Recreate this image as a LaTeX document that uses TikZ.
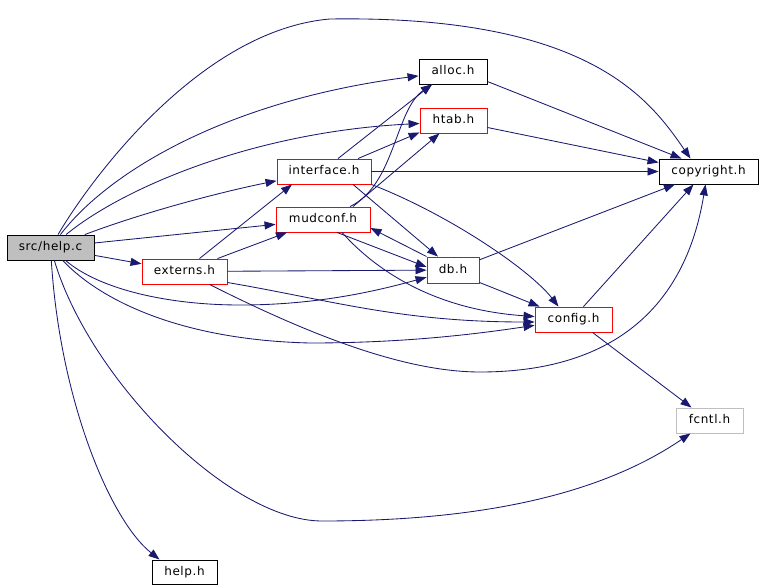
\documentclass[tikz,border=0pt]{standalone}
\usepackage{fontspec}
\setmainfont{DejaVu Sans}[LetterSpace=5]
\usetikzlibrary{arrows.meta,calc}
\definecolor{edgeblue}{HTML}{191970}
\definecolor{boxgray}{HTML}{BFBFBF}
\begin{document}
\begin{tikzpicture}[x=1pt,y=-1pt,
  file/.style={draw, line width=0.9pt, minimum height=25pt, inner sep=0pt,
    text height=9pt, text depth=3pt, font=\fontsize{12}{14}\selectfont},
  redfile/.style={file, draw=red},
  blackfile/.style={file, draw=black},
  grayfile/.style={file, draw=boxgray},
  dep/.style={draw=edgeblue, line width=0.85pt, -{Triangle[length=11pt,width=8pt]}}
]
\useasboundingbox (0,0) rectangle (763,588);

% nodes
\node[blackfile, fill=boxgray, minimum width=87pt] (helpc) at (50.5,247.5) {src/help.c};
\node[redfile, minimum width=85pt] (externs) at (184.5,271.5) {externs.h};
\node[redfile, minimum width=94pt] (interface) at (324,171.5) {interface.h};
\node[blackfile, minimum width=68pt] (alloc) at (453,71.5) {alloc.h};
\node[redfile, minimum width=67pt] (htab) at (453.5,120.5) {htab.h};
\node[redfile, minimum width=94pt] (mudconf) at (323,219.5) {mudconf.h};
\node[redfile, minimum width=52pt, minimum height=26pt] (db) at (453,270) {db.h};
\node[redfile, minimum width=77pt] (config) at (573.5,319.5) {config.h};
\node[blackfile, minimum width=99pt] (copyright) at (708.5,171.5) {copyright.h};
\node[grayfile, minimum width=67pt] (fcntl) at (709.5,420.5) {fcntl.h};
\node[blackfile, minimum width=65pt, minimum height=24pt] (helph) at (184.5,572) {help.h};

% src/help.c
\draw[dep] (helpc) .. controls (90,180) and (200,30) .. (330,19) .. controls (590,15) and (650,100) .. ($(copyright.north)+(-18,0)$);
\draw[dep] (helpc) .. controls (110,170) and (230,100) .. (alloc);
\draw[dep] (helpc) .. controls (120,190) and (250,132) .. ($(htab.west)+(0,3)$);
\draw[dep] (helpc) .. controls (150,210) and (230,190) .. (interface);
\draw[dep] (helpc) -- (mudconf);
\draw[dep] (helpc) -- (externs);
\draw[dep] (helpc) .. controls (100,290) and (170,305) .. (240,305) .. controls (320,305) and (380,290) .. (db);
\draw[dep] (helpc) .. controls (100,300) and (180,340) .. (310,343) .. controls (400,343) and (470,335) .. (config);
\draw[dep] (helpc) .. controls (90,380) and (230,521) .. (322,521) .. controls (480,521) and (600,495) .. (fcntl);
\draw[dep] (helpc) .. controls (60,400) and (110,520) .. ($(helph.north)+(-25,0)$);

% interface.h
\draw[dep] ($(interface.north)+(14,0)$) -- ($(alloc.south)+(-21,0)$);
\draw[dep] ($(interface.north)+(34,0)$) -- ($(htab.south west)+(0,-1)$);
\draw[dep] (interface) -- (copyright);
\draw[dep] ($(interface.south)+(29,0)$) -- ($(db.north)+(-15,0)$);
\draw[dep] (interface.south east) .. controls (450,215) and (530,270) .. ($(config.north)+(-15,0)$);

% mudconf.h
\draw[dep] ($(mudconf.north)+(27,0)$) .. controls (395,185) and (395,110) .. ($(alloc.south)+(-21,0)$);
\draw[dep] ($(mudconf.north)+(30,0)$) -- ($(htab.south)+(-14,0)$);
\draw[dep] ($(mudconf.south)+(14,0)$) -- ($(db.west)+(0,-3)$);
\draw[dep] ($(mudconf.south)+(19,0)$) .. controls (380,275) and (440,310) .. ($(config.west)+(0,-3)$);

% db.h
\draw[dep] (db.north west) -- ($(mudconf.east)+(0,8.5)$);
\draw[dep] (db) -- (copyright);
\draw[dep] ($(db.south east)+(0,-1)$) -- ($(config.north west)+(5,0)$);

% externs.h
\draw[dep] ($(externs.north)+(15,0)$) -- ($(interface.south)+(-32,0)$);
\draw[dep] ($(externs.north)+(33,0)$) -- ($(mudconf.south)+(-36,0)$);
\draw[dep] (externs) -- (db);
\draw[dep] ($(externs.east)+(0,11)$) .. controls (330,300) and (400,322) .. ($(config.west)+(0,2.5)$);
\draw[dep] ($(externs.south)+(25,0)$) .. controls (300,330) and (400,372) .. (480,372) .. controls (610,372) and (685,310) .. ($(copyright.south)+(-3,0)$);

% config.h
\draw[dep] ($(config.north)+(10,0)$) -- ($(copyright.south)+(-15,0)$);
\draw[dep] ($(config.south)+(19,0)$) -- ($(fcntl.north)+(-18,0)$);

% alloc.h, htab.h
\draw[dep] ($(alloc.east)+(0,10)$) -- ($(copyright.north)+(-27,0)$);
\draw[dep] ($(htab.east)+(0,7)$) -- ($(copyright.west)+(0,-9)$);
\end{tikzpicture}
\end{document}
